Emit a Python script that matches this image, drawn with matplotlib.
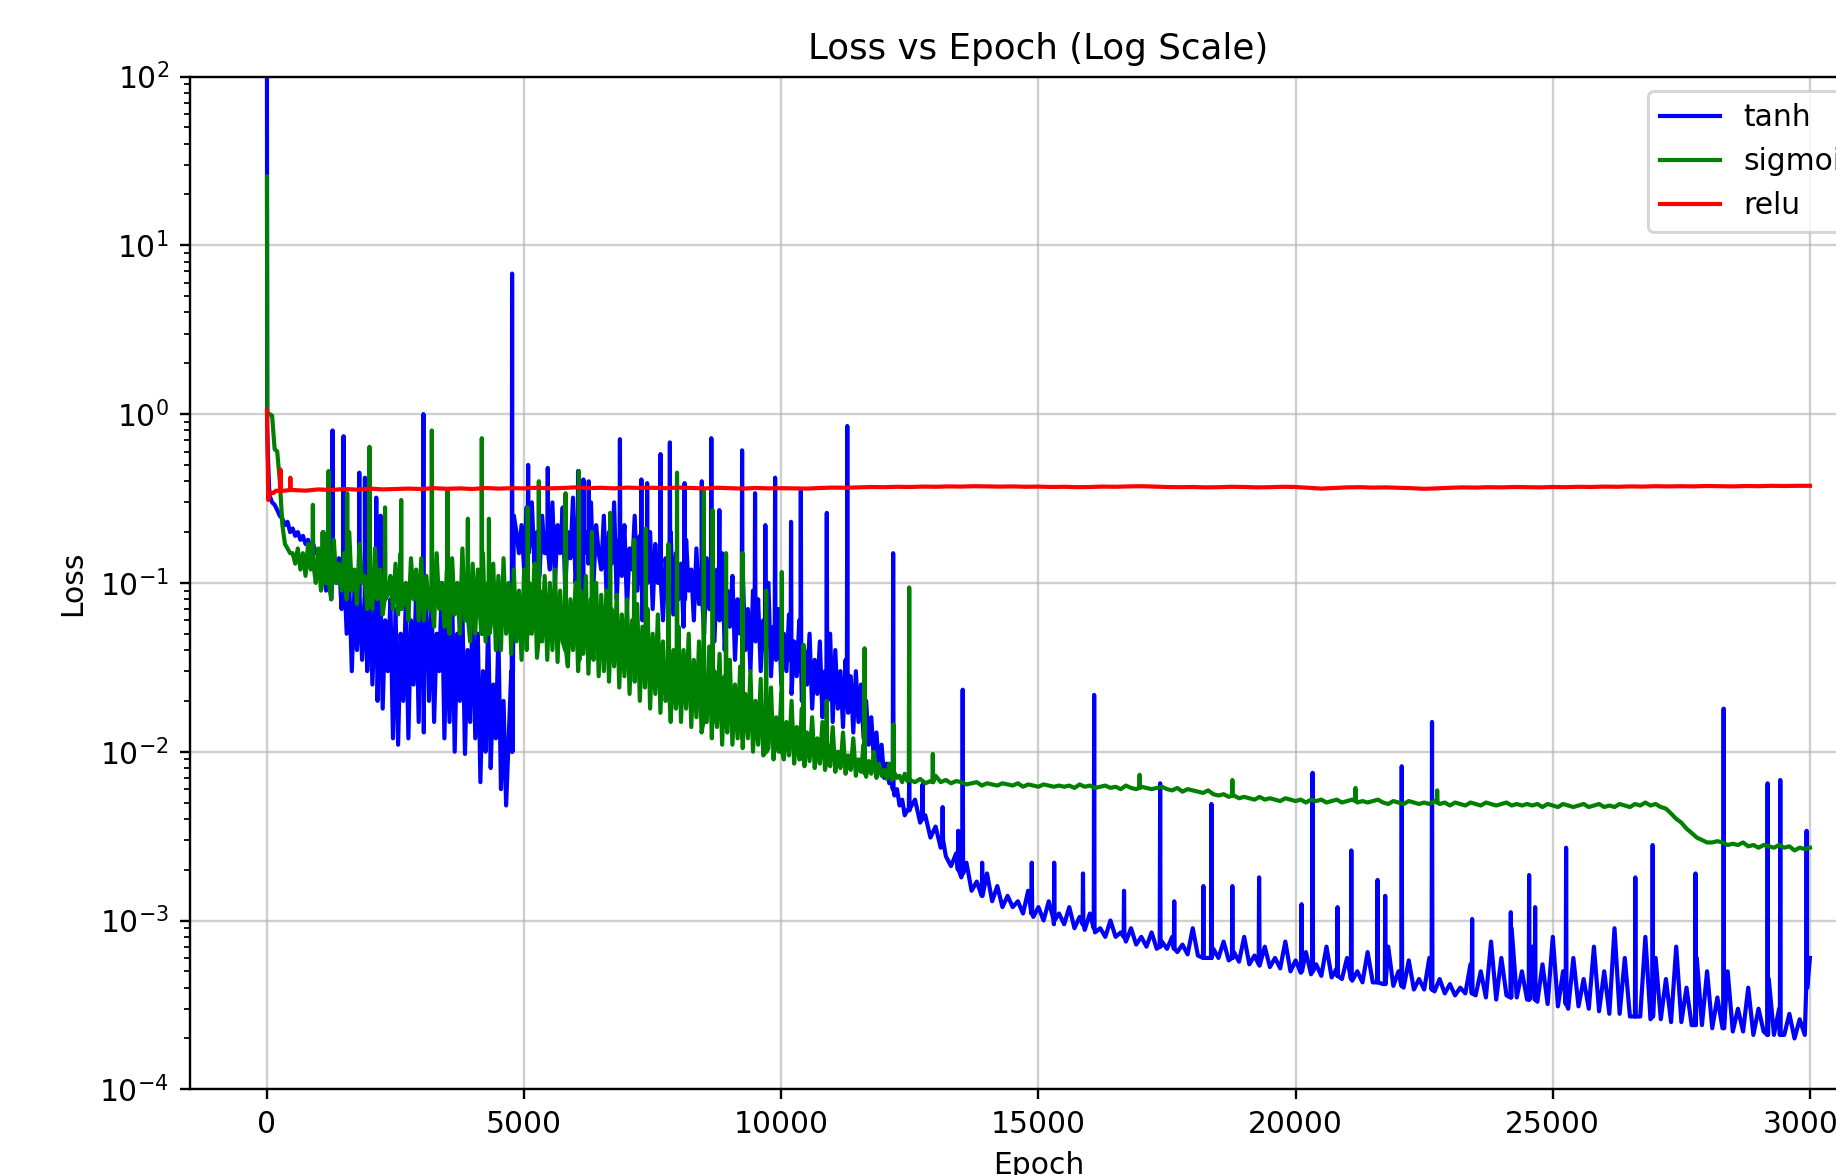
import numpy as np
import matplotlib
matplotlib.use("Agg")
import matplotlib.pyplot as plt

# ---------------- data ----------------
series_labels = ["tanh", "sigmoid", "relu"]
x_ticks = [0, 5000, 10000, 15000, 20000, 25000, 30000]

# tanh
tanh_head_epochs = [0, 5, 20, 40]
tanh_head_loss = [100, 0.85, 0.55, 0.38]
# epochs 50..12450 every 50
tanh_loss_a = [
    0.33, 0.30, 0.29, 0.27, 0.25, 0.24, 0.22, 0.23, 0.20, 0.21, 0.19, 0.20, 0.18, 0.19, 0.17, 0.18, 0.16, 0.17, 0.15,
    0.15, 0.12, 0.14, 0.09, 0.13, 0.08, 0.12, 0.10, 0.14, 0.07,
    0.12, 0.05, 0.10, 0.03, 0.09, 0.04, 0.11, 0.035, 0.08, 0.03,
    0.10, 0.025, 0.07, 0.02, 0.09, 0.018, 0.06, 0.03, 0.08, 0.012,
    0.07, 0.011, 0.05, 0.02, 0.08, 0.012, 0.06, 0.025, 0.09, 0.015,
    0.10, 0.013, 0.07, 0.02, 0.08, 0.015, 0.05, 0.03, 0.10, 0.012,
    0.06, 0.015, 0.09, 0.010, 0.05, 0.02, 0.07, 0.0097, 0.04, 0.015,
    0.08, 0.012, 0.05, 0.0066, 0.03, 0.010, 0.06, 0.008, 0.025, 0.012,
    0.05, 0.006, 0.02, 0.0048, 0.012, 0.03, 0.25, 0.20, 0.15, 0.22,
    0.12, 0.28, 0.16, 0.30, 0.13, 0.20, 0.11, 0.25, 0.15, 0.18,
    0.12, 0.30, 0.10, 0.22, 0.15, 0.28, 0.09, 0.20, 0.14, 0.32,
    0.10, 0.18, 0.25, 0.08, 0.20, 0.13, 0.30, 0.10, 0.22, 0.15,
    0.12, 0.25, 0.09, 0.20, 0.13, 0.30, 0.08, 0.18, 0.11, 0.22,
    0.07, 0.16, 0.12, 0.25, 0.09, 0.19, 0.06, 0.15, 0.10, 0.20,
    0.07, 0.17, 0.10, 0.22, 0.06, 0.14, 0.09, 0.20, 0.065, 0.15,
    0.08, 0.13, 0.055, 0.18, 0.09, 0.12, 0.06, 0.16, 0.075, 0.11,
    0.05, 0.14, 0.07, 0.10, 0.045, 0.12, 0.06, 0.15, 0.04, 0.09,
    0.055, 0.11, 0.035, 0.08, 0.05, 0.12, 0.04, 0.07, 0.03, 0.09,
    0.045, 0.08, 0.03, 0.06, 0.04, 0.10, 0.028, 0.055, 0.035, 0.07,
    0.025, 0.05, 0.03, 0.065, 0.022, 0.045, 0.028, 0.06, 0.02, 0.04,
    0.025, 0.05, 0.018, 0.035, 0.022, 0.045, 0.016, 0.03, 0.02, 0.05,
    0.015, 0.04, 0.018, 0.03, 0.014, 0.035, 0.017, 0.028, 0.013, 0.03,
    0.015, 0.025, 0.012, 0.02, 0.011, 0.016, 0.009, 0.013, 0.008, 0.011,
    0.007, 0.0085, 0.0065, 0.007, 0.0055, 0.006, 0.0048, 0.0052, 0.0042, 0.0045,
]
# epochs 12500..29900 every 100
tanh_loss_b = [
    0.0046, 0.0052, 0.0038, 0.0042, 0.0031, 0.0036, 0.0027, 0.0024, 0.0021, 0.0025,
    0.0018, 0.0022, 0.0015, 0.0017, 0.0014, 0.0019, 0.0013, 0.0016, 0.0012, 0.0014,
    0.0012, 0.0013, 0.0011, 0.0015, 0.00105, 0.0012, 0.0010, 0.0013, 0.00095, 0.0011,
    0.00095, 0.0012, 0.0009, 0.00105, 0.00088, 0.0011, 0.00085, 0.0009, 0.0008, 0.0010,
    0.0008, 0.00085, 0.00075, 0.0009, 0.00072, 0.0008, 0.0007, 0.00085, 0.00068, 0.00075,
    0.00068, 0.0008, 0.00065, 0.00072, 0.00063, 0.0009, 0.00062, 0.0007, 0.0006, 0.00068,
    0.0006, 0.00075, 0.00058, 0.00065, 0.00057, 0.0008, 0.00055, 0.00062, 0.00054, 0.0007,
    0.00053, 0.0006, 0.00052, 0.00075, 0.0005, 0.00058, 0.00049, 0.00065, 0.00048, 0.00055,
    0.00047, 0.0007, 0.00046, 0.00052, 0.00045, 0.0006, 0.00044, 0.0005, 0.00043, 0.00065,
    0.00043, 0.00055, 0.00042, 0.0007, 0.00041, 0.0005, 0.0004, 0.00058, 0.00039, 0.00045,
    0.00039, 0.0006, 0.00038, 0.00045, 0.00037, 0.00042, 0.00036, 0.0004, 0.00037, 0.00055,
    0.00036, 0.0005, 0.00035, 0.00075, 0.00034, 0.0006, 0.00036, 0.0009, 0.00035, 0.0005,
    0.00034, 0.0007, 0.00033, 0.00055, 0.00032, 0.0008, 0.00031, 0.0005, 0.0003, 0.0006,
    0.00031, 0.00045, 0.0003, 0.0007, 0.00029, 0.0005, 0.00028, 0.0009, 0.00028, 0.0006,
    0.00027, 0.0005, 0.00027, 0.0008, 0.00026, 0.0006, 0.00026, 0.00045, 0.00025, 0.0007,
    0.00025, 0.0004, 0.00024, 0.0006, 0.00024, 0.0005, 0.00023, 0.00035, 0.00023, 0.0005,
    0.00022, 0.0003, 0.00022, 0.0004, 0.00021, 0.0003, 0.00022, 0.00045, 0.00021, 0.0003,
    0.00021, 0.00028, 0.0002, 0.00026, 0.00021,
]
tanh_tail_epochs = [29950, 29999]
tanh_tail_loss = [0.0004, 0.0006]
tanh_spike_epochs = [1275, 1490, 1795, 1905, 2125, 2210, 3042, 4766, 5078, 5460, 6049, 6153, 6257,
                     6863, 7280, 7392, 7652, 7834, 8120, 8455, 8640, 8796, 9238, 9490, 9690, 9880,
                     10190, 10380, 10885, 11283, 12175, 12487, 12747, 13137, 13440, 13527, 13905,
                     14870, 15306, 15866, 16083, 16664, 17366, 17640, 18207, 18363, 18770, 19290,
                     20116, 20330, 20815, 21083, 21593, 21742, 22063, 22652, 23432, 24184, 24540,
                     24657, 25259, 26605, 26942, 27775, 28322, 29177, 29423, 29935]
tanh_spike_peaks = [0.80, 0.74, 0.45, 0.42, 0.32, 0.25, 1.0, 6.8, 0.50, 0.48, 0.46, 0.41, 0.40,
                    0.71, 0.41, 0.39, 0.58, 0.68, 0.39, 0.40, 0.72, 0.27, 0.61, 0.34, 0.22, 0.42,
                    0.23, 0.35, 0.26, 0.85, 0.15, 0.0069, 0.0064, 0.0047, 0.0034, 0.0233, 0.0022,
                    0.0022, 0.0022, 0.0019, 0.0217, 0.0015, 0.0065, 0.0013, 0.0016, 0.0049, 0.0016, 0.0018,
                    0.00125, 0.0075, 0.0012, 0.0026, 0.00174, 0.0014, 0.0082, 0.015, 0.00102, 0.00112, 0.00186,
                    0.0012, 0.0027, 0.0018, 0.0028, 0.0019, 0.018, 0.0065, 0.0068, 0.0034]
tanh_spike_feet = [0.10, 0.10, 0.08, 0.08, 0.07, 0.06, 0.08, 0.01, 0.15, 0.15, 0.15, 0.15, 0.15,
                   0.12, 0.10, 0.10, 0.10, 0.09, 0.08, 0.08, 0.07, 0.07, 0.05, 0.05, 0.04, 0.04,
                   0.035, 0.03, 0.025, 0.02, 0.006, 0.0045, 0.004, 0.003, 0.002, 0.0019, 0.0014,
                   0.0011, 0.001, 0.00095, 0.0009, 0.0008, 0.0007, 0.00068, 0.0006, 0.0006, 0.0006, 0.00055,
                   0.0005, 0.0005, 0.00047, 0.00045, 0.00043, 0.00042, 0.00041, 0.00039, 0.00037, 0.00035, 0.00034,
                   0.00034, 0.00032, 0.00027, 0.00027, 0.00024, 0.00023, 0.00021, 0.00021, 0.0004]

# sigmoid
sigmoid_head_epochs = [0, 6]
sigmoid_head_loss = [25.5, 1.02]
sigmoid_loss_a = [
    1.0, 0.98, 0.62, 0.60, 0.40, 0.22, 0.17, 0.16, 0.15,
    0.15, 0.13, 0.16, 0.12, 0.15, 0.11, 0.17, 0.12, 0.14, 0.10,
    0.16, 0.09, 0.20, 0.10, 0.14, 0.08, 0.18, 0.10, 0.13, 0.09,
    0.15, 0.08, 0.20, 0.09, 0.12, 0.075, 0.17, 0.10, 0.11, 0.07,
    0.14, 0.07, 0.16, 0.08, 0.12, 0.065, 0.18, 0.085, 0.11, 0.07,
    0.13, 0.065, 0.15, 0.075, 0.10, 0.06, 0.14, 0.08, 0.12, 0.06,
    0.14, 0.06, 0.11, 0.07, 0.13, 0.055, 0.15, 0.07, 0.10, 0.055,
    0.12, 0.05, 0.14, 0.065, 0.10, 0.05, 0.16, 0.06, 0.11, 0.045,
    0.13, 0.05, 0.12, 0.06, 0.15, 0.045, 0.10, 0.055, 0.13, 0.04,
    0.11, 0.04, 0.14, 0.05, 0.10, 0.038, 0.12, 0.045, 0.09, 0.035,
    0.12, 0.04, 0.10, 0.05, 0.13, 0.036, 0.09, 0.045, 0.11, 0.035,
    0.10, 0.04, 0.12, 0.034, 0.09, 0.045, 0.11, 0.032, 0.08, 0.04,
    0.10, 0.03, 0.09, 0.038, 0.11, 0.029, 0.08, 0.035, 0.10, 0.028,
    0.085, 0.03, 0.09, 0.026, 0.07, 0.032, 0.085, 0.024, 0.065, 0.028,
    0.08, 0.022, 0.06, 0.026, 0.075, 0.02, 0.055, 0.024, 0.07, 0.018,
    0.05, 0.022, 0.065, 0.017, 0.045, 0.02, 0.06, 0.015, 0.04, 0.018,
    0.055, 0.015, 0.04, 0.018, 0.05, 0.014, 0.035, 0.016, 0.045, 0.013,
    0.032, 0.015, 0.042, 0.012, 0.03, 0.014, 0.038, 0.011, 0.028, 0.013,
    0.035, 0.011, 0.025, 0.012, 0.032, 0.0105, 0.022, 0.012, 0.03, 0.01,
    0.02, 0.011, 0.027, 0.0095, 0.018, 0.0105, 0.024, 0.009, 0.016, 0.01,
    0.022, 0.009, 0.015, 0.0095, 0.02, 0.0085, 0.014, 0.009, 0.018, 0.0082,
    0.013, 0.0088, 0.016, 0.008, 0.012, 0.0085, 0.015, 0.0078, 0.011, 0.0082,
    0.014, 0.0076, 0.01, 0.008, 0.013, 0.0074, 0.0095, 0.0078, 0.012, 0.0072,
    0.009, 0.0076, 0.011, 0.0071, 0.0088, 0.0074, 0.01, 0.007, 0.0085, 0.0072,
    0.0078, 0.0069, 0.0085, 0.0068, 0.0075, 0.007, 0.0072, 0.0066, 0.0074, 0.0067,
]
sigmoid_loss_b = [
    0.0068, 0.0066, 0.0069, 0.0065, 0.0067, 0.0072, 0.0066, 0.0068, 0.0065, 0.0067,
    0.0066, 0.0064, 0.0065, 0.0066, 0.0063, 0.0065, 0.0064, 0.0063, 0.0065, 0.0064,
    0.0063, 0.0065, 0.0062, 0.0064, 0.0063, 0.0062, 0.0064, 0.0063, 0.0062, 0.0063,
    0.0062, 0.0063, 0.0061, 0.0064, 0.0062, 0.0063, 0.0061, 0.0062, 0.0063, 0.0061,
    0.0062, 0.0060, 0.0063, 0.0061, 0.0060, 0.0062, 0.0061, 0.0060, 0.0061, 0.0062,
    0.0060, 0.0059, 0.0061, 0.0058, 0.0060, 0.0059, 0.0058, 0.0057, 0.0059, 0.0056,
    0.0055, 0.0056, 0.0054, 0.0055, 0.0053, 0.0054, 0.0053, 0.0052, 0.0054, 0.0052,
    0.0053, 0.0052, 0.0051, 0.0053, 0.0052, 0.0051, 0.0052, 0.0050, 0.0052, 0.0051,
    0.0052, 0.0050, 0.0051, 0.0052, 0.0050, 0.0051, 0.0052, 0.0050, 0.0051, 0.0050,
    0.0051, 0.0052, 0.0050, 0.0049, 0.0051, 0.0050, 0.0049, 0.0051, 0.0050, 0.0049,
    0.0050, 0.0049, 0.0051, 0.0049, 0.0050, 0.0048, 0.0050, 0.0049, 0.0048, 0.0050,
    0.0049, 0.0048, 0.0050, 0.0049, 0.0048, 0.0049, 0.0050, 0.0048, 0.0049, 0.0048,
    0.0049, 0.0048, 0.0049, 0.0047, 0.0049, 0.0048, 0.0047, 0.0049, 0.0048, 0.0047,
    0.0048, 0.0049, 0.0047, 0.0048, 0.0049, 0.0047, 0.0048, 0.0047, 0.0049, 0.0048,
    0.0047, 0.0049, 0.0048, 0.0050, 0.0048, 0.0049, 0.0047, 0.0046, 0.0043, 0.0040,
    0.0038, 0.0035, 0.0033, 0.0031, 0.0030, 0.0029, 0.0029, 0.00295, 0.0029, 0.0028,
    0.00285, 0.0028, 0.0029, 0.00275, 0.0028, 0.0027, 0.0028, 0.00275, 0.0027, 0.0028,
    0.0027, 0.00275, 0.0026, 0.0027, 0.00265,
]
sigmoid_tail_epochs = [29999]
sigmoid_tail_loss = [0.0027]
sigmoid_spike_epochs = [893, 1083, 1196, 1560, 1993, 2296, 2610, 3206, 3510, 3906, 4177, 4316, 5070,
                        5286, 5806, 6066, 6318, 6673, 7140, 7366, 7806, 7973, 8493, 8666, 8926,
                        9247, 9706, 10010, 10432, 10883, 11620, 12183, 12487, 12946, 16967, 18770,
                        21165, 22752]
sigmoid_spike_peaks = [0.29, 0.20, 0.46, 0.34, 0.64, 0.28, 0.31, 0.80, 0.35, 0.24, 0.72, 0.24, 0.28,
                       0.40, 0.34, 0.46, 0.20, 0.26, 0.18, 0.21, 0.17, 0.45, 0.35, 0.27, 0.15,
                       0.15, 0.09, 0.116, 0.043, 0.02, 0.041, 0.0145, 0.094, 0.0097, 0.0073, 0.0068,
                       0.0061, 0.0059]
sigmoid_spike_feet = [0.13, 0.10, 0.10, 0.09, 0.08, 0.08, 0.07, 0.07, 0.06, 0.06, 0.05, 0.05, 0.05,
                      0.045, 0.04, 0.035, 0.04, 0.035, 0.03, 0.03, 0.025, 0.02, 0.015, 0.015, 0.015,
                      0.012, 0.01, 0.01, 0.009, 0.0085, 0.0075, 0.007, 0.0068, 0.0066, 0.0061, 0.0055,
                      0.0051, 0.005]

# relu
relu_head_epochs = [0, 25, 60, 120, 180]
relu_head_loss = [1.05, 0.31, 0.345, 0.34, 0.352]
# epochs 250..29750 every 250
relu_loss = [
    0.350, 0.355, 0.352, 0.358, 0.355, 0.360, 0.357, 0.362, 0.358, 0.360,
    0.362, 0.360, 0.364, 0.361, 0.363, 0.360, 0.365, 0.362, 0.364, 0.363,
    0.366, 0.363, 0.365, 0.368, 0.364, 0.366, 0.363, 0.367, 0.365, 0.366,
    0.364, 0.367, 0.365, 0.363, 0.366, 0.364, 0.362, 0.365, 0.363, 0.364,
    0.363, 0.362, 0.365, 0.367, 0.366, 0.368, 0.370, 0.369, 0.371, 0.370,
    0.372, 0.371, 0.373, 0.372, 0.374, 0.373, 0.372, 0.373, 0.371, 0.372,
    0.370, 0.371, 0.369, 0.370, 0.372, 0.371, 0.373, 0.374, 0.372, 0.370,
    0.369, 0.370, 0.368, 0.369, 0.371, 0.370, 0.368, 0.369, 0.371, 0.370,
    0.366, 0.362, 0.365, 0.368, 0.369, 0.367, 0.368, 0.366, 0.364, 0.361,
    0.363, 0.366, 0.368, 0.367, 0.369, 0.368, 0.370, 0.369, 0.368, 0.370,
    0.369, 0.371, 0.370, 0.372, 0.371, 0.373, 0.372, 0.374, 0.373, 0.374,
    0.373, 0.375, 0.374, 0.373, 0.375, 0.374, 0.376, 0.375, 0.376,
]
relu_tail_epochs = [29999]
relu_tail_loss = [0.376]
relu_spike_epochs = [262, 455]
relu_spike_peaks = [0.47, 0.42]
relu_spike_feet = [0.35, 0.355]


def assemble(head_e, head_v, parts, tail_e, tail_v, sp_e, sp_p, sp_f):
    xs = list(head_e)
    ys = list(head_v)
    for (start, stop, step), vals in parts:
        grid = list(range(start, stop, step))
        if len(grid) != len(vals):
            raise ValueError(f"length mismatch {len(grid)} vs {len(vals)}")
        xs += grid
        ys += list(vals)
    xs += list(tail_e)
    ys += list(tail_v)
    for e, p, f in zip(sp_e, sp_p, sp_f):
        xs += [e - 8, e, e + 8]
        ys += [f, p, f]
    xs = np.array(xs, dtype=float)
    ys = np.array(ys, dtype=float)
    order = np.argsort(xs, kind="stable")
    return xs[order], ys[order]


tanh_x, tanh_y = assemble(tanh_head_epochs, tanh_head_loss,
                          [((50, 12500, 50), tanh_loss_a), ((12500, 30000, 100), tanh_loss_b)],
                          tanh_tail_epochs, tanh_tail_loss,
                          tanh_spike_epochs, tanh_spike_peaks, tanh_spike_feet)
sig_x, sig_y = assemble(sigmoid_head_epochs, sigmoid_head_loss,
                        [((50, 12500, 50), sigmoid_loss_a), ((12500, 30000, 100), sigmoid_loss_b)],
                        sigmoid_tail_epochs, sigmoid_tail_loss,
                        sigmoid_spike_epochs, sigmoid_spike_peaks, sigmoid_spike_feet)
relu_x, relu_y = assemble(relu_head_epochs, relu_head_loss,
                          [((250, 30000, 250), relu_loss)],
                          relu_tail_epochs, relu_tail_loss,
                          relu_spike_epochs, relu_spike_peaks, relu_spike_feet)

# ---------------- figure ----------------
DPI = 214
W, H = 1836, 1175
fig = plt.figure(figsize=(W / DPI, H / DPI), dpi=DPI)
ax = fig.add_axes([189.8 / W, 85.7 / H, 1697.3 / W, 1012.8 / H])

LW = 1.4
ax.plot(tanh_x, tanh_y, color="blue", lw=LW, label=series_labels[0])
ax.plot(sig_x, sig_y, color="green", lw=LW, label=series_labels[1])
ax.plot(relu_x, relu_y, color="red", lw=LW, label=series_labels[2])

ax.set_yscale("log")
ax.set_ylim(1e-4, 1e2)
ax.set_xlim(-1500, 31500)
ax.set_xticks(x_ticks)
ax.set_title("Loss vs Epoch (Log Scale)", fontsize=12)
ax.set_xlabel("Epoch")
ax.set_ylabel("Loss")
ax.grid(True, which="major", alpha=0.6)
ax.legend(loc="upper right")

fig.savefig("out.png", dpi=DPI)
